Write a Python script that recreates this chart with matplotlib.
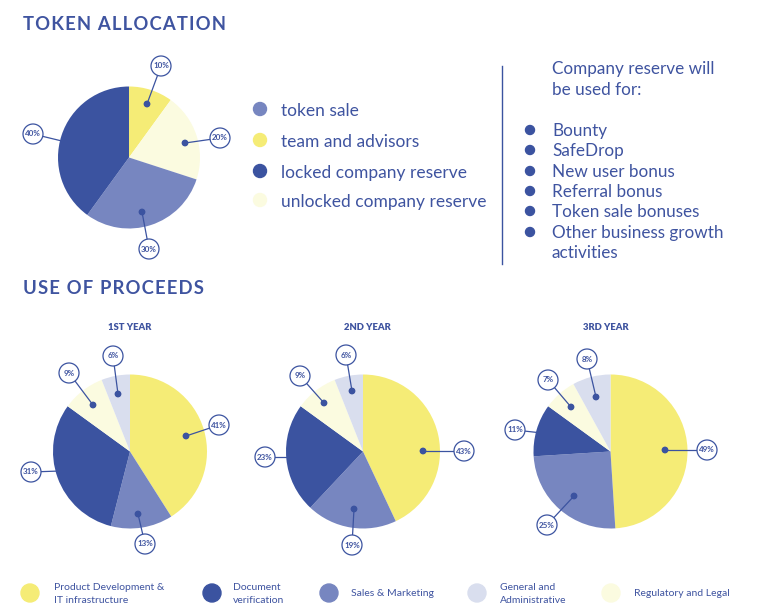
import matplotlib
matplotlib.use('Agg')
import matplotlib.pyplot as plt
from matplotlib.patches import Circle

W, H = 763, 616
BLUE = '#3b53a0'
MID = '#7786c0'
YELLOW = '#f5ec76'
CREAM = '#fbfbe0'
GREY = '#d9deee'
TEXT = '#3f54a0'

plt.rcParams['font.family'] = ['Lato', 'DejaVu Sans']

# data
token_values = [10, 20, 30, 40]
year_titles = ['1ST YEAR', '2ND YEAR', '3RD YEAR']
year1_values = [41, 13, 31, 9, 6]
year2_values = [43, 19, 23, 9, 6]
year3_values = [49, 25, 11, 7, 8]
token_legend = ['token sale', 'team and advisors', 'locked company reserve', 'unlocked company reserve']
reserve_items = ['Bounty', 'SafeDrop', 'New user bonus', 'Referral bonus', 'Token sale bonuses', 'Other business growth']
proceeds_legend = ['Product Development &\nIT infrastructure', 'Document\nverification', 'Sales & Marketing',
                   'General and\nAdministrative', 'Regulatory and Legal']

# callout layout: bubble x, y, dot x, y (pixels)
token_callouts = [(161, 66, 147, 104), (220, 138, 185, 143), (149, 249, 142, 212), (33, 134, 66, 142)]
year1_callouts = [(219, 425, 186, 436), (145, 544, 138, 514), (31, 472, 60, 471), (69, 373, 93, 405), (113, 356, 118, 394)]
year2_callouts = [(464, 451, 423, 451), (352, 545, 354, 509), (265, 457, 293, 457), (300, 376, 324, 403), (346, 355, 352, 391)]
year3_callouts = [(707, 450, 665, 450), (547, 525, 574, 496), (515, 430, 542, 433), (548, 380, 571, 407), (587, 359, 596, 397)]


def draw_pie(fig, cx, cy, r, values, colors):
    pad = r + 1
    ax = fig.add_axes([(cx - pad) / W, 1 - (cy + pad) / H, 2 * pad / W, 2 * pad / H])
    ax.pie(values, colors=colors, startangle=90, counterclock=False, radius=r / pad)
    ax.set_xlim(-1, 1)
    ax.set_ylim(-1, 1)


def draw_callouts(ov, values, callouts, r=10):
    for v, (bx, by, dx, dy) in zip(values, callouts):
        ov.plot([bx, dx], [by, dy], color=BLUE, lw=0.9, zorder=5)
        ov.add_patch(Circle((dx, dy), 2.7, color=BLUE, zorder=6))
        ov.add_patch(Circle((bx, by), r, fc='white', ec=BLUE, lw=0.9, zorder=7))
        ov.text(bx, by, f'{v}%', color=TEXT, fontsize=5.8, fontweight='bold', ha='center', va='center', zorder=8)


fig = plt.figure(figsize=(W / 100, H / 100), dpi=100)

draw_pie(fig, 129, 157.5, 71, token_values, [YELLOW, CREAM, MID, BLUE])
year_colors = [YELLOW, MID, BLUE, CREAM, GREY]
draw_pie(fig, 130, 451.5, 77, year1_values, year_colors)
draw_pie(fig, 363, 451.5, 77, year2_values, year_colors)
draw_pie(fig, 610.5, 451.5, 77, year3_values, year_colors)

# overlay in pixel coordinates for text and markers
ov = fig.add_axes([0, 0, 1, 1], facecolor='none')
ov.set_xlim(0, W)
ov.set_ylim(H, 0)
ov.axis('off')

ov.text(23, 25, '\u200a'.join('TOKEN ALLOCATION'), color=TEXT, fontsize=13.3, fontweight='bold', va='center')
ov.text(23, 289, '\u200a'.join('USE OF PROCEEDS'), color=TEXT, fontsize=13.3, fontweight='bold', va='center')

for x, t in zip([130, 367, 606], year_titles):
    ov.text(x, 328, t, color=TEXT, fontsize=6.8, fontweight='heavy', ha='center', va='center')

draw_callouts(ov, token_values, token_callouts)
draw_callouts(ov, year1_values, year1_callouts)
draw_callouts(ov, year2_values, year2_callouts)
draw_callouts(ov, year3_values, year3_callouts)

# token legend
for y, c, t in zip([109, 140, 171, 200], [MID, YELLOW, BLUE, CREAM], token_legend):
    ov.add_patch(Circle((260, y), 6.5, color=c))
    ov.text(281, y + 2, t, color=TEXT, fontsize=12.5, va='center')

# company reserve block
ov.plot([502, 502], [66, 264], color=BLUE, lw=1)
ov.text(552, 69, 'Company reserve will', color=TEXT, fontsize=12.3, va='center')
ov.text(552, 90, 'be used for:', color=TEXT, fontsize=12.3, va='center')
for y, t in zip([130, 150, 171, 191, 211, 232], reserve_items):
    ov.add_patch(Circle((530, y), 4.5, color=BLUE))
    ov.text(552, y + 1, t, color=TEXT, fontsize=12.3, va='center')
ov.text(552, 253, 'activities', color=TEXT, fontsize=12.3, va='center')

# bottom legend
dot_x = [30, 212, 329, 477, 611]
text_x = [54, 233, 351, 500, 634]
for dx, tx, c, t in zip(dot_x, text_x, [YELLOW, BLUE, MID, GREY, CREAM], proceeds_legend):
    ov.add_patch(Circle((dx, 593), 9, color=c))
    ov.text(tx, 594, t, color=TEXT, fontsize=7.5, va='center', linespacing=1.5)

fig.savefig('out.png', dpi=100)
